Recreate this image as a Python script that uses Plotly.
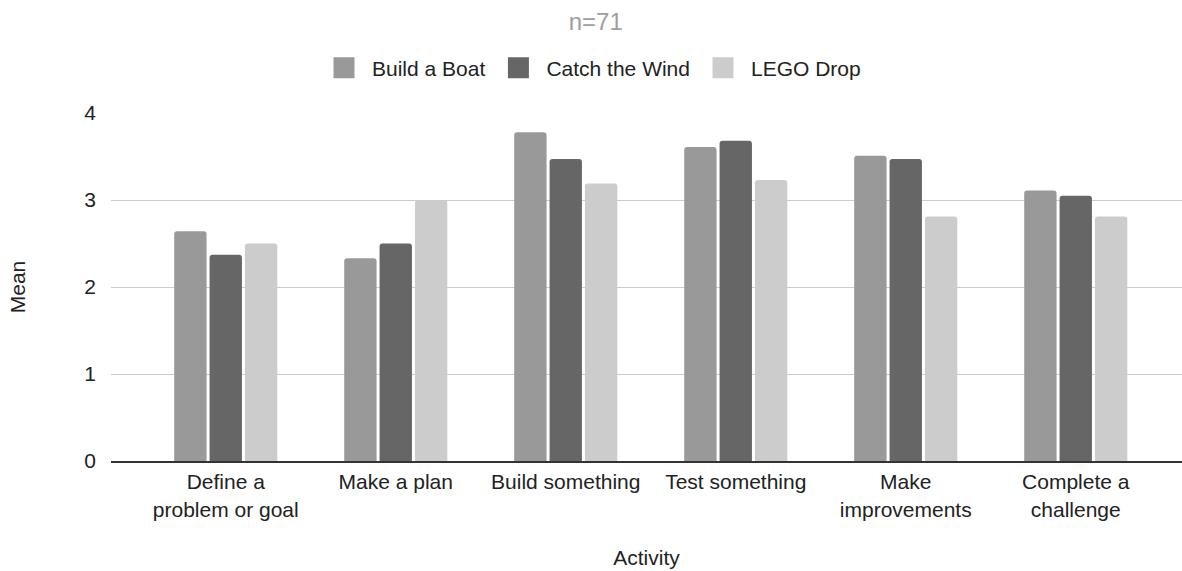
import plotly.graph_objects as go

activities = [
    "Define a<br>problem or goal",
    "Make a plan",
    "Build something",
    "Test something",
    "Make<br>improvements",
    "Complete a<br>challenge",
]
build_a_boat = [2.64, 2.33, 3.78, 3.61, 3.51, 3.11]
catch_the_wind = [2.37, 2.50, 3.47, 3.68, 3.47, 3.05]
lego_drop = [2.50, 3.00, 3.19, 3.23, 2.81, 2.81]

series = [
    ("Build a Boat", build_a_boat, "#999999"),
    ("Catch the Wind", catch_the_wind, "#666666"),
    ("LEGO Drop", lego_drop, "#cccccc"),
]

FONT = "Liberation Sans, Arial, sans-serif"

fig = go.Figure()
for name, vals, color in series:
    fig.add_trace(go.Bar(
        x=list(range(len(activities))), y=vals, name=name,
        marker=dict(color=color, line=dict(width=0), cornerradius=3),
        showlegend=False, legendgroup=name,
    ))
# legend entries with bigger square swatches
for name, vals, color in series:
    fig.add_trace(go.Scatter(
        x=[None], y=[None], mode="markers", name=name, legendgroup=name,
        marker=dict(symbol="square", size=16, color=color,
                    line=dict(color=color, width=5)),
    ))

fig.update_layout(
    width=1182, height=571,
    margin=dict(l=111, r=0, t=113, b=110),
    paper_bgcolor="white", plot_bgcolor="white",
    font=dict(family=FONT, size=21, color="#222222"),
    barmode="group", bargap=0.376, bargroupgap=0.085,
    title=dict(text="n=71", x=0.504, xref="container", xanchor="center",
               y=1 - 22 / 571, yref="container", yanchor="middle",
               font=dict(size=24, color="#9e9e9e")),
    legend=dict(orientation="h", x=591 / 1182, xref="container", xanchor="center",
                y=1 - 68 / 571, yref="container", yanchor="middle",
                font=dict(size=21, color="#222222"), itemwidth=46,
                traceorder="normal"),
    showlegend=True,
)
fig.update_xaxes(
    tickmode="array", tickvals=list(range(len(activities))), ticktext=activities,
    range=[-0.675, 5.625], showgrid=False, zeroline=False,
    showline=True, linecolor="#333333", linewidth=2,
    ticks="", ticklabelstandoff=1, automargin=False,
    title=dict(text="Activity", standoff=31, font=dict(size=21, color="#222222")),
)
fig.update_yaxes(
    range=[0, 4], tickvals=[0, 1, 2, 3, 4], showgrid=True,
    gridcolor="#cccccc", gridwidth=1, zeroline=False,
    ticks="", ticklabelstandoff=14, automargin=False,
    title=dict(text="Mean", standoff=52, font=dict(size=21, color="#222222")),
)

# page body margin would push the chart 8px right/down
fig.write_html("out.html", config={"displayModeBar": False},
               post_script="document.body.style.margin = '0px';")
